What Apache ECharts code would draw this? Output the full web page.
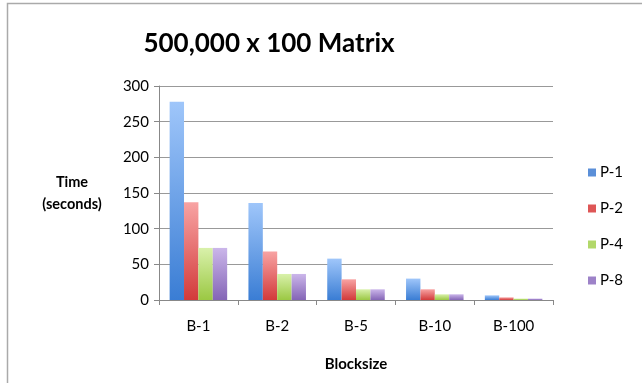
<!DOCTYPE html>
<html>
<head>
<meta charset="utf-8">
<script src="https://cdn.jsdelivr.net/npm/echarts@6/dist/echarts.min.js"></script>
<style>
  html, body { margin: 0; padding: 0; background: #fff; }
  #chart { width: 642px; height: 383px; }
</style>
</head>
<body>
<div id="chart"></div>
<script>
// blocksize categories and timings (seconds) per process count
var categories = ['B-1', 'B-2', 'B-5', 'B-10', 'B-100'];
var p1 = [278, 136, 58, 30, 6.5];
var p2 = [137, 68, 29, 15, 3.7];
var p4 = [73, 36.5, 15, 8, 2];
var p8 = [73, 36.5, 15, 8, 2];
var yTicks = [0, 50, 100, 150, 200, 250, 300];

var font = 'Lato, "Open Sans", sans-serif';

function grad(top, bottom) {
  return new echarts.graphic.LinearGradient(0, 0, 0, 1, [
    { offset: 0, color: top },
    { offset: 1, color: bottom }
  ]);
}

function makeSeries(name, data, top, bottom, flat) {
  return {
    name: name,
    type: 'bar',
    data: data,
    barGap: '0%',
    barCategoryGap: '27%',
    itemStyle: { color: grad(top, bottom) },
    // legend swatch uses the flat colour
    _flat: flat
  };
}

var series = [
  makeSeries('P-1', p1, '#9fc6fa', '#3a7dd4', '#5b8fd8'),
  makeSeries('P-2', p2, '#f8a3a3', '#d23a3a', '#de5656'),
  makeSeries('P-4', p4, '#d9f1ab', '#9bc843', '#b2d86a'),
  makeSeries('P-8', p8, '#cbb6ea', '#8465b6', '#9d82c8')
];

var chart = echarts.init(document.getElementById('chart'));
chart.setOption({
  animation: false,
  textStyle: { fontFamily: font },
  title: {
    text: '500,000 x 100 Matrix',
    left: 264,
    top: 26,
    textAlign: 'center',
    textStyle: { fontFamily: font, fontSize: 26, fontWeight: 'bold', color: '#000' }
  },
  graphic: [{
    type: 'rect',
    shape: { x: 7.5, y: 3.5, width: 700, height: 500 },
    style: { fill: 'none', stroke: '#aaa', lineWidth: 1.5 },
    silent: true
  }],
  legend: {
    orient: 'vertical',
    left: 583,
    top: 160,
    itemWidth: 8,
    itemHeight: 8,
    itemGap: 21,
    icon: 'rect',
    textStyle: { fontFamily: font, fontSize: 15, color: '#000', padding: [0, 0, 0, -1] },
    data: series.map(function (s) {
      return { name: s.name, itemStyle: { color: s._flat } };
    })
  },
  grid: { left: 159, right: 89, top: 86, bottom: 83, containLabel: false },
  xAxis: {
    type: 'category',
    data: categories,
    name: 'Blocksize',
    nameLocation: 'middle',
    nameGap: 57,
    nameTextStyle: { fontFamily: font, fontSize: 15, fontWeight: 'bold', color: '#000' },
    axisLine: { lineStyle: { color: '#888', width: 1 } },
    axisTick: { show: true, length: 5, lineStyle: { color: '#888' } },
    axisLabel: { fontFamily: font, fontSize: 15, color: '#000', margin: 19 }
  },
  yAxis: {
    type: 'value',
    min: yTicks[0],
    max: yTicks[yTicks.length - 1],
    interval: 50,
    name: 'Time\n(seconds)',
    nameLocation: 'middle',
    nameRotate: 0,
    nameGap: 87,
    nameTextStyle: { fontFamily: font, fontSize: 14.5, fontWeight: 'bold', color: '#000', align: 'center', lineHeight: 22, padding: [14, 0, 0, 0] },
    axisLine: { show: true, lineStyle: { color: '#888', width: 1 } },
    axisTick: { show: true, length: 5, lineStyle: { color: '#888' } },
    axisLabel: { fontFamily: font, fontSize: 15, color: '#000', margin: 10 },
    splitLine: { lineStyle: { color: '#999', width: 1 } }
  },
  series: series.map(function (s) {
    var c = Object.assign({}, s);
    delete c._flat;
    return c;
  })
});
</script>
</body>
</html>
